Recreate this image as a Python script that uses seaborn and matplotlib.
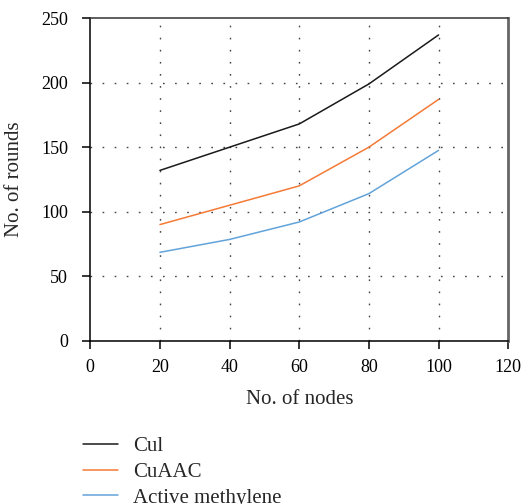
import matplotlib
matplotlib.use('Agg')
import matplotlib.pyplot as plt
import seaborn as sns
import pandas as pd

# ── Data ────────────────────────────────────────────────
nodes = [20, 40, 60, 80, 100]
cul = [132, 150, 168, 199, 237]
cuaac = [90, 105, 120, 150, 187]
active_methylene = [68.5, 78.5, 92, 114, 147.5]

series_names = ['Cul', 'CuAAC', 'Active methylene']
colors = ['#1a1a1a', '#f47a36', '#62a3d9']

x_ticks = [0, 20, 40, 60, 80, 100, 120]
y_ticks = [0, 50, 100, 150, 200, 250]

df = pd.DataFrame({
    'nodes': nodes * 3,
    'rounds': cul + cuaac + active_methylene,
    'series': [s for s in series_names for _ in nodes],
})

# ── Style ───────────────────────────────────────────────
sns.set_theme(style='ticks')
plt.rcParams['font.family'] = ['Liberation Serif', 'DejaVu Serif']
plt.rcParams['xtick.labelsize'] = 13
plt.rcParams['ytick.labelsize'] = 13
plt.rcParams['xtick.color'] = 'black'
plt.rcParams['ytick.color'] = 'black'

fig = plt.figure(figsize=(5.25, 5.04), dpi=100)
ax = fig.add_axes([0.172, 0.324, 0.796, 0.640])

# dotted reference grid at the inner tick positions
for xv in x_ticks[1:-1]:
    ax.axvline(xv, color='#444444', linewidth=1.0, dashes=(1.2, 7.5), zorder=0.8)
for yv in y_ticks[1:-1]:
    ax.axhline(yv, color='#444444', linewidth=1.0, dashes=(1.2, 7.5), zorder=0.8)

sns.lineplot(data=df, x='nodes', y='rounds', hue='series',
             hue_order=series_names, palette=colors, linewidth=1.1,
             ax=ax, legend=False, zorder=3)

ax.set_xlim(0, 120)
ax.set_ylim(0, 250)
ax.set_xticks(x_ticks)
ax.set_yticks(y_ticks)

# tick marks drawn as short segments outside the axes (the axis' own
# tick marks do not show up in this setup); axis ticks keep only labels
ax.tick_params(axis='both', length=0)
ax.tick_params(axis='y', pad=16)
ax.tick_params(axis='x', pad=13)
ax.vlines(x_ticks, -0.025, 0, transform=ax.get_xaxis_transform(),
          colors='black', linewidth=1.1, clip_on=False)
ax.hlines(y_ticks, -0.019, 0, transform=ax.get_yaxis_transform(),
          colors='black', linewidth=1.1, clip_on=False)

ax.set_xlabel('No. of nodes', fontsize=15, labelpad=10)
ax.set_ylabel('No. of rounds', fontsize=15, labelpad=12)

for side in ['left', 'bottom']:
    ax.spines[side].set_color('black')
    ax.spines[side].set_linewidth(1.1)
ax.spines['top'].set_visible(True)
ax.spines['right'].set_visible(True)
ax.spines['top'].set_color('#333333')
ax.spines['top'].set_linewidth(1.1)
ax.spines['right'].set_color('#666666')
ax.spines['right'].set_linewidth(2.0)

handles = [plt.Line2D([], [], color=c, linewidth=1.1) for c in colors]
fig.legend(handles, series_names, loc='upper left',
           bbox_to_anchor=(0.158, 0.134), frameon=False, fontsize=15,
           handlelength=1.7, handletextpad=0.7, labelspacing=0.3,
           borderaxespad=0, borderpad=0)

fig.savefig('out.png', dpi=100, facecolor='white')
